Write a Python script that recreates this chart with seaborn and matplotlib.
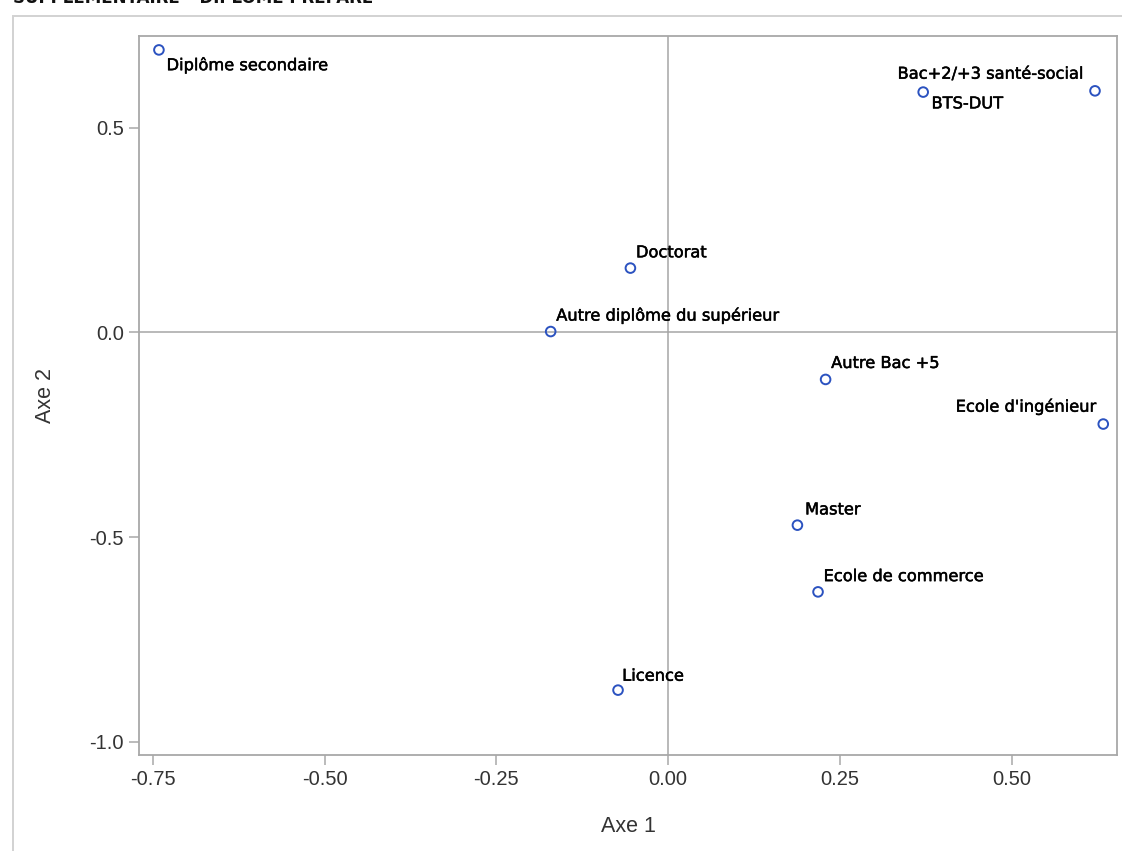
import matplotlib
matplotlib.use("Agg")
import matplotlib.pyplot as plt
import matplotlib.patches as mpatches
import matplotlib.patheffects as pe
import seaborn as sns
import pandas as pd

# Coordinates of the supplementary categories on the first factorial plane
categories = [
    "Diplôme secondaire",
    "BTS-DUT",
    "Bac+2/+3 santé-social",
    "Doctorat",
    "Autre diplôme du supérieur",
    "Autre Bac +5",
    "Ecole d'ingénieur",
    "Master",
    "Ecole de commerce",
    "Licence",
]
axe1 = [-0.741, 0.371, 0.621, -0.055, -0.171, 0.229, 0.633, 0.188, 0.218, -0.073]
axe2 = [0.690, 0.587, 0.590, 0.157, 0.002, -0.115, -0.224, -0.471, -0.634, -0.874]

x_ticks = [-0.75, -0.50, -0.25, 0.00, 0.25, 0.50]
x_tick_labels = ["-0.75", "-0.50", "-0.25", "0.00", "0.25", "0.50"]
y_ticks = [-1.0, -0.5, 0.0, 0.5]
y_tick_labels = ["-1.0", "-0.5", "0.0", "0.5"]

title = "SUPPLÉMENTAIRE – DIPLÔME PRÉPARÉ"

df = pd.DataFrame({"categorie": categories, "Axe 1": axe1, "Axe 2": axe2})

# label offsets in points (dx, dy) and horizontal alignment
label_pos = {
    "Diplôme secondaire": (5.5, -11, "left"),
    "BTS-DUT": (6, -8.5, "left"),
    "Bac+2/+3 santé-social": (-8.5, 12, "right"),
    "Doctorat": (4, 11, "left"),
    "Autre diplôme du supérieur": (4, 11.5, "left"),
    "Autre Bac +5": (4, 11.5, "left"),
    "Ecole d'ingénieur": (-5, 12.5, "right"),
    "Master": (5.5, 11, "left"),
    "Ecole de commerce": (4, 11, "left"),
    "Licence": (3, 10, "left"),
}

sns.set_theme(style="white")
plt.rcParams["font.family"] = ["Liberation Sans", "DejaVu Sans"]

W, H = 1122, 851
fig = plt.figure(figsize=(W / 100, H / 100), dpi=100)
fig.patch.set_facecolor("white")

# outer graph frame
frame = mpatches.Rectangle((13 / W, -0.05), 1.2, 1 - 16 / H + 0.05,
                           transform=fig.transFigure, fill=False,
                           edgecolor="#D2D2D2", linewidth=1.4, zorder=0)
fig.patches.append(frame)

# title line, running off the top of the canvas
fig.text(13 / W, 1 - 3 / H, title,
         ha="left", va="baseline", fontsize=12, fontweight="bold",
         color="#111111", family=["DejaVu Sans"])

ax = fig.add_axes([139 / W, 1 - 755 / H, (1117 - 139) / W, (755 - 36) / H])

ax.axhline(0, color="#A5A5A5", linewidth=1.1, zorder=1)
ax.axvline(0, color="#A5A5A5", linewidth=1.1, zorder=1)

sns.scatterplot(data=df, x="Axe 1", y="Axe 2", ax=ax, marker="o", s=48,
                facecolor="none", edgecolor="#2B52C0", linewidth=1.4,
                zorder=3, legend=False)

for name, xv, yv in zip(categories, axe1, axe2):
    dx, dy, ha = label_pos[name]
    ax.annotate(name, (xv, yv), xytext=(dx, dy), textcoords="offset points",
                ha=ha, va="center", fontsize=11.7, color="#000000",
                family=["DejaVu Sans"], zorder=4,
                path_effects=[pe.withStroke(linewidth=0.35, foreground="#000000")])

ax.set_xlim(-0.770, 0.653)
ax.set_ylim(-1.0325, 0.724)
ax.set_xticks(x_ticks)
ax.set_xticklabels(x_tick_labels)
ax.set_yticks(y_ticks)
ax.set_yticklabels(y_tick_labels)

for side in ["left", "right", "top", "bottom"]:
    ax.spines[side].set_visible(True)
    ax.spines[side].set_color("#A8A8A8")
    ax.spines[side].set_linewidth(1.3)

ax.tick_params(axis="both", which="major", direction="out", length=7,
               width=1.1, color="#A8A8A8", labelsize=14.5,
               labelcolor="#333333", pad=4, bottom=True, left=True)

ax.set_xlabel("Axe 1", fontsize=15.5, color="#333333", labelpad=19)
ax.set_ylabel("Axe 2", fontsize=15.5, color="#333333", labelpad=24)
ax.grid(False)

fig.savefig("out.png", dpi=100, facecolor="white")
